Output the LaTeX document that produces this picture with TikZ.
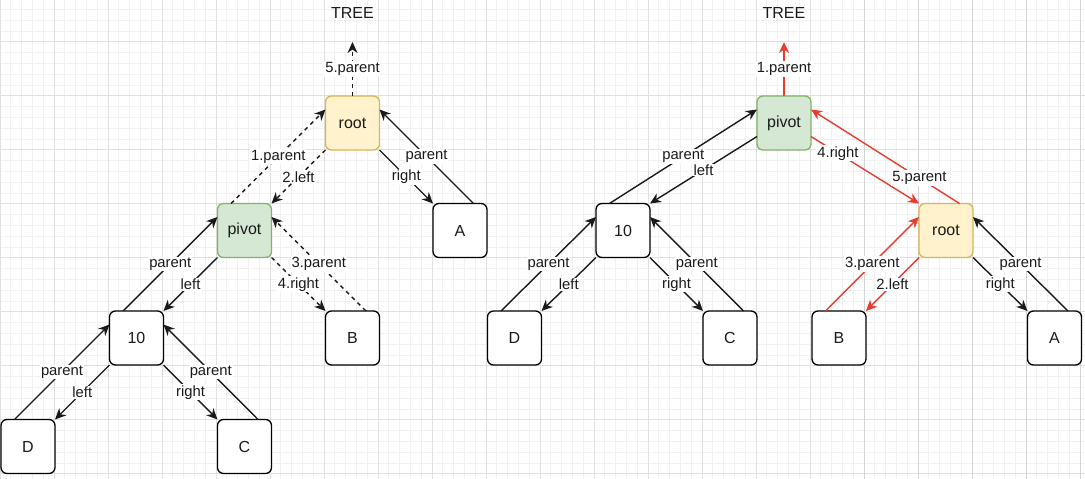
\documentclass[tikz,border=0pt]{standalone}
\usepackage{fontspec}
\setmainfont{Liberation Sans}
\usetikzlibrary{arrows.meta}
\definecolor{minorgrid}{HTML}{F1F1F1}
\definecolor{majorgrid}{HTML}{E0E0E0}
\definecolor{darkgrid}{HTML}{D4D4D4}
\definecolor{redline}{RGB}{234,60,46}
\definecolor{rootfill}{HTML}{FFF2CC}
\definecolor{rootdraw}{HTML}{D6B656}
\definecolor{pivfill}{HTML}{D5E8D4}
\definecolor{pivdraw}{HTML}{82B366}
\definecolor{txt}{HTML}{1A1A1A}
\begin{document}
\begin{tikzpicture}[x=1pt,y=-1pt,
  box/.style={draw=black, fill=white, line width=1.35pt, rounded corners=6pt, minimum width=54pt, minimum height=54pt, inner sep=0pt, outer sep=0pt, font=\fontsize{16}{19}\selectfont, text=txt},
  rootbox/.style={box, draw=rootdraw, fill=rootfill},
  pivbox/.style={box, draw=pivdraw, fill=pivfill},
  edge/.style={line width=1.4pt, -{Stealth[length=11pt,width=10pt,inset=3.5pt]}, draw=txt},
  dashedge/.style={edge, dash pattern=on 4pt off 4pt},
  rededge/.style={edge, draw=redline},
  lbl/.style={fill=white, inner sep=1pt, font=\fontsize{14.8}{16}\selectfont, text=txt},
  title/.style={font=\fontsize{16}{19}\selectfont, text=txt}
]
\useasboundingbox (0,0) rectangle (1085,479);
\fill[white] (0,0) rectangle (1085,479);
% grid
\foreach \i in {0,...,100} \draw[minorgrid, line width=0.8pt] (\i*10.8,0) -- (\i*10.8,479);
\foreach \i in {0,...,44} \draw[minorgrid, line width=0.8pt] (0,9.3+\i*10.8) -- (1085,9.3+\i*10.8);
\foreach \i in {0,...,20} \draw[majorgrid, line width=0.9pt] (\i*54,0) -- (\i*54,479);
\foreach \i in {0,...,8} \draw[majorgrid, line width=0.9pt] (0,41.7+\i*54) -- (1085,41.7+\i*54);
\foreach \x in {864,918,972,1026,1080} \draw[darkgrid, line width=1pt] (\x,0) -- (\x,479);

% ---------- left tree ----------
\node[title] (treeL) at (352.5,13) {TREE};
\coordinate (tipL) at (352.5,42);
\node[rootbox] (rootL) at (352.5,123) {root};
\node[pivbox] (pivL) at (244.5,230.5) {pivot};
\node[box] (AL) at (460,230.5) {A};
\node[box] (tenL) at (136.5,338) {10};
\node[box] (BL) at (352.5,338) {B};
\node[box] (DL) at (28,446.5) {D};
\node[box] (CL) at (244.5,446.5) {C};

\draw[dashedge] (rootL.north) -- (tipL) node[lbl,midway]{5.parent};
\draw[dashedge] (rootL.south west) -- (pivL.north east) node[lbl,midway]{2.left};
\draw[dashedge] ([xshift=-13.5pt]pivL.north) -- ([yshift=13.5pt]rootL.west) node[lbl,midway]{1.parent};
\draw[edge] (rootL.south east) -- (AL.north west) node[lbl,midway]{right};
\draw[edge] ([xshift=13.5pt]AL.north) -- ([yshift=13.5pt]rootL.east) node[lbl,midway]{parent};
\draw[edge] (pivL.south west) -- (tenL.north east) node[lbl,midway]{left};
\draw[edge] ([xshift=-13.5pt]tenL.north) -- ([yshift=13.5pt]pivL.west) node[lbl,midway]{parent};
\draw[dashedge] (pivL.south east) -- (BL.north west) node[lbl,midway]{4.right};
\draw[dashedge] ([xshift=13.5pt]BL.north) -- ([yshift=13.5pt]pivL.east) node[lbl,midway]{3.parent};
\draw[edge] (tenL.south west) -- (DL.north east) node[lbl,midway]{left};
\draw[edge] ([xshift=-13.5pt]DL.north) -- ([yshift=13.5pt]tenL.west) node[lbl,midway]{parent};
\draw[edge] (tenL.south east) -- (CL.north west) node[lbl,midway]{right};
\draw[edge] ([xshift=13.5pt]CL.north) -- ([yshift=13.5pt]tenL.east) node[lbl,midway]{parent};

% ---------- right tree ----------
\node[title] (treeR) at (784,13) {TREE};
\coordinate (tipR) at (784,42);
\node[pivbox] (pivR) at (784,123) {pivot};
\node[box] (tenR) at (623,230.5) {10};
\node[rootbox] (rootR) at (946,230.5) {root};
\node[box] (DR) at (514.5,338) {D};
\node[box] (CR) at (730,338) {C};
\node[box] (BR) at (839,338) {B};
\node[box] (AR) at (1054.5,338) {A};

\draw[rededge] (pivR.north) -- (tipR) node[lbl,midway]{1.parent};
\draw[edge] ([yshift=-13.5pt]pivR.west) -- (tenR.north east) node[lbl,midway]{left};
\draw[edge] ([xshift=-13.5pt]tenR.north) -- ([yshift=13.5pt]pivR.west) node[lbl,midway]{parent};
\draw[rededge] ([yshift=-13.5pt]pivR.east) -- (rootR.north west) node[lbl,pos=0.25]{4.right};
\draw[rededge] ([xshift=13.5pt]rootR.north) -- ([yshift=13.5pt]pivR.east) node[lbl,pos=0.27]{5.parent};
\draw[rededge] (rootR.south west) -- (BR.north east) node[lbl,midway]{2.left};
\draw[rededge] ([xshift=-13.5pt]BR.north) -- ([yshift=13.5pt]rootR.west) node[lbl,midway]{3.parent};
\draw[edge] (rootR.south east) -- (AR.north west) node[lbl,midway]{right};
\draw[edge] ([xshift=13.5pt]AR.north) -- ([yshift=13.5pt]rootR.east) node[lbl,midway]{parent};
\draw[edge] (tenR.south west) -- (DR.north east) node[lbl,midway]{left};
\draw[edge] ([xshift=-13.5pt]DR.north) -- ([yshift=13.5pt]tenR.west) node[lbl,midway]{parent};
\draw[edge] (tenR.south east) -- (CR.north west) node[lbl,midway]{right};
\draw[edge] ([xshift=13.5pt]CR.north) -- ([yshift=13.5pt]tenR.east) node[lbl,midway]{parent};
\end{tikzpicture}
\end{document}
